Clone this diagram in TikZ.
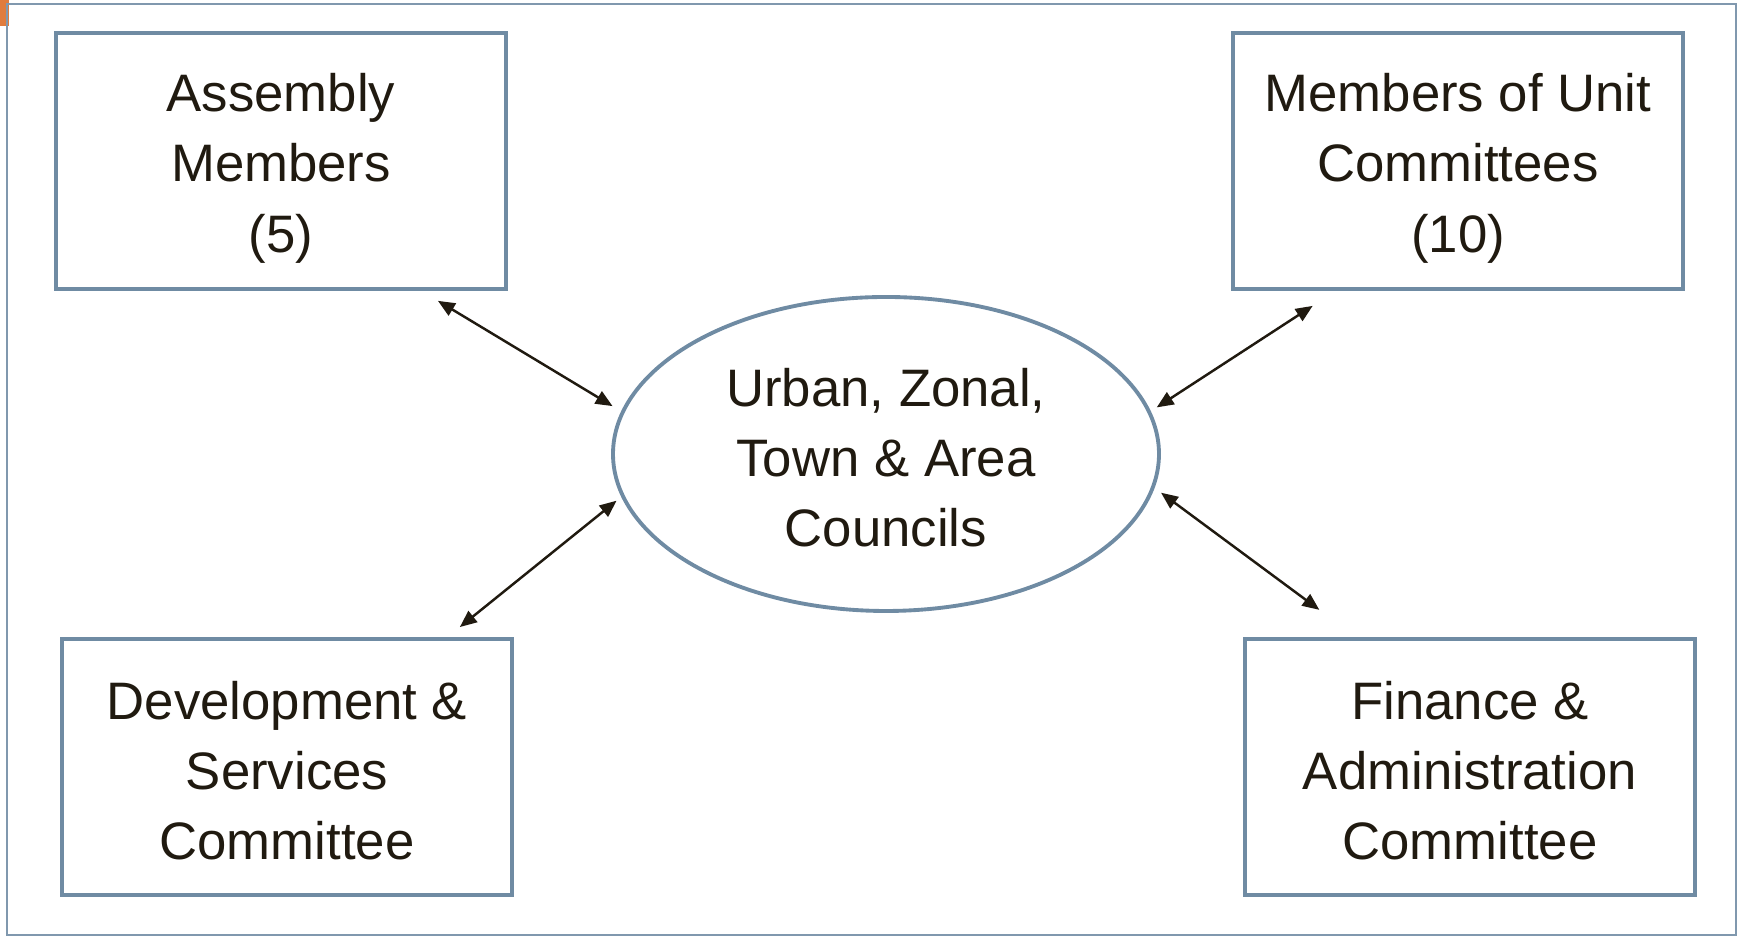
\documentclass[tikz,border=0pt]{standalone}
\usepackage{fontspec}
\setmainfont{Liberation Sans}
\usepackage{tikz}
\usetikzlibrary{shapes.geometric, arrows.meta}

\definecolor{boxline}{RGB}{111,139,163}
\definecolor{frameline}{RGB}{128,152,174}
\definecolor{inkdark}{RGB}{32,26,16}
\definecolor{cornerorange}{RGB}{224,124,62}

\tikzset{
    unitbox/.style={draw=boxline, line width=1.2pt, minimum width=4.5cm, minimum height=2.56cm,
        inner sep=0pt, outer sep=0pt, align=center, text=inkdark, font=\fontsize{15}{20}\selectfont},
    council/.style={ellipse, draw=boxline, line width=1.1pt, minimum width=5.46cm, minimum height=3.14cm,
        inner sep=0pt, outer sep=0pt, align=center, text=inkdark, font=\fontsize{15}{20}\selectfont},
    link/.style={<->, >={Triangle[length=4.8pt, width=4pt]}, line width=0.7pt, draw=inkdark}
}

\begin{document}
\begin{tikzpicture}
        \useasboundingbox (0,0) rectangle (17.43,9.36);

        % Cornice della slide
        \fill[cornerorange] (0,9.10) rectangle (0.09,9.36);
        \draw[frameline, line width=0.6pt] (0.07,0.01) rectangle (17.36,9.32);

        % Riquadri in alto
        \node[unitbox] (assembly) at (2.81,7.75) {
            \rule{0pt}{15pt}Assembly \\
            Members \\
            (5)
        };
        \node[unitbox] (unitcomm) at (14.58,7.75) {
            \rule{0pt}{15pt}Members of Unit \\
            Committees \\
            (10)
        };

        % Riquadri in basso
        \node[unitbox] (devcomm) at (2.87,1.69) {
            \rule{0pt}{13pt}Development \& \\
            Services \\
            Committee
        };
        \node[unitbox] (fincomm) at (14.70,1.69) {
            \rule{0pt}{13pt}Finance \& \\
            Administration \\
            Committee
        };

        % Ellisse centrale
        \node[council] (council) at (8.86,4.82) {
            \rule{0pt}{13pt}Urban, Zonal, \\
            Town \& Area \\
            Councils
        };

        % Frecce doppie
        \draw[link, shorten <=0.23cm, shorten >=0.12cm] (assembly.-43) -- (council.171.4);
        \draw[link, shorten <=0.09cm, shorten >=0.31cm] (council.9.1) -- (unitcomm.-133.4);
        \draw[link, shorten <=0.19cm, shorten >=0.08cm] (devcomm.39.3) -- (council.189.3);
        \draw[link, shorten <=0.10cm, shorten >=0.49cm] (council.-7.6) -- (fincomm.131.3);
    \end{tikzpicture}
\end{document}
